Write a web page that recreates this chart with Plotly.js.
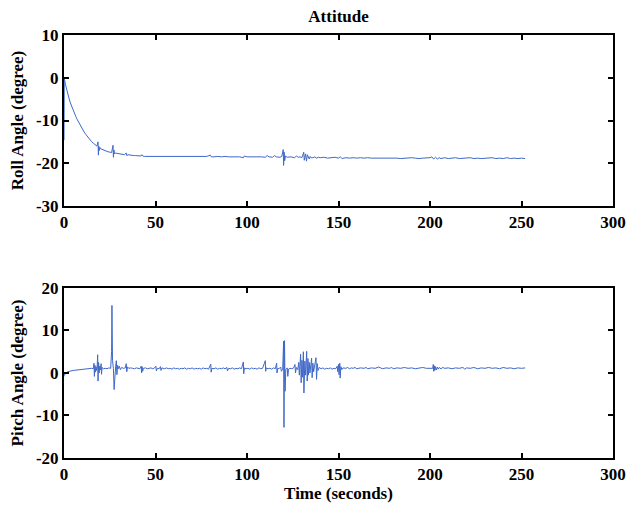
<!DOCTYPE html>
<html>
<head>
<meta charset="utf-8">
<script src="https://cdn.plot.ly/plotly-3.0.1.min.js"></script>
<style>
  html, body { margin: 0; padding: 0; background: #fff; }
  #chart { width: 627px; height: 506px; }
</style>
</head>
<body>
<div id="chart"></div>
<script>
// Roll angle samples (seconds, degrees)
const rollTime = [
  0, 0.15, 0.4, 0.8, 1.2, 1.6, 2, 2.5, 3, 3.5, 4, 4.5, 5, 5.5, 6, 6.5, 7, 7.5, 8, 8.5, 9, 9.5, 10,
  11, 12, 13, 14, 15, 16, 17, 18, 18.6, 18.8, 19.0, 19.3, 19.6, 20, 21, 22, 23, 24, 25, 26,
  26.8, 27.0, 27.3, 27.6, 28, 29, 30, 31, 32, 33, 34, 34.3, 35, 36, 37, 38, 39, 40, 42, 42.5, 43, 44, 46, 48,
  50, 52, 54, 56, 58, 60, 62, 64, 66, 68, 70, 72, 74, 76, 78, 80, 80.5, 82, 84, 86, 88, 90, 92, 94, 96,
  98, 98.5, 100, 102, 104, 106, 108, 110, 111, 112, 114, 115, 116, 118, 119,
  119.8, 120.0, 120.3, 120.6, 121, 122, 124, 126, 127, 128, 129, 130,
  131, 131.3, 132, 132.5, 133, 134, 134.5, 135,
  136, 137, 138, 139, 140, 142, 144, 146, 148, 150, 151, 152, 154, 156, 158, 160, 162, 164, 166, 168,
  170, 172, 174, 176, 178, 180, 182, 184, 186, 188, 190, 192, 194, 196, 198, 200, 201, 202, 203, 204,
  205, 206, 208, 210, 212, 214, 216, 218, 220, 222, 224, 226, 228, 230, 232, 234, 236, 238, 240, 242,
  244, 246, 248, 250, 252
];
const rollDeg = [
  -14.6, -0.3, -0.6, -1.6, -2.4, -3.0, -3.7, -4.5, -5.2, -5.9, -6.5, -7.1, -7.6, -8.1, -8.6, -9.1, -9.6, -10.0, -10.5, -10.9, -11.3, -11.6, -12.0,
  -12.7, -13.3, -13.9, -14.4, -14.9, -15.3, -15.7, -16.0, -15.0, -18.1, -16.0, -17.0, -16.3, -16.6, -16.8, -17.0, -17.1, -17.3, -17.4, -17.5,
  -15.8, -18.6, -16.9, -17.8, -17.6, -17.7, -17.8, -17.8, -17.9, -18.0, -17.6, -18.2, -18.0, -18.1, -18.1, -18.2, -18.2, -18.2, -18.3, -18.0, -18.3, -18.4, -18.4, -18.5,
  -18.4, -18.5, -18.4, -18.5, -18.45, -18.5, -18.4, -18.5, -18.5, -18.4, -18.5, -18.4, -18.5, -18.5, -18.4, -18.1, -18.5, -18.5, -18.4, -18.5, -18.4, -18.5, -18.5, -18.4, -18.5,
  -18.7, -18.3, -18.5, -18.5, -18.4, -18.5, -18.5, -18.6, -18.2, -18.5, -18.6, -18.2, -18.5, -18.6, -18.4,
  -16.8, -20.5, -17.4, -19.4, -18.3, -18.6, -18.5, -18.7, -18.3, -18.6, -18.5, -18.7,
  -17.4, -19.3, -17.8, -19.5, -18.0, -19.0, -18.4, -18.7,
  -18.7, -18.5, -18.8, -18.6, -18.7, -18.6, -18.8, -18.7, -18.6, -18.8, -18.5, -18.9, -18.7, -18.8, -18.7, -18.8, -18.7, -18.8, -18.7, -18.8,
  -18.8, -18.7, -18.8, -18.8, -18.7, -18.8, -18.8, -18.9, -18.8, -18.8, -18.7, -18.8, -18.9, -18.8, -18.8, -18.7, -18.5, -19.0, -18.6, -19.0,
  -18.7, -18.9, -18.7, -18.9, -18.8, -18.7, -18.9, -18.8, -18.8, -18.7, -18.9, -18.8, -18.9, -18.8, -18.8, -18.7, -18.9, -18.8, -18.9, -18.7,
  -18.9, -18.8, -18.9, -18.8, -18.9
];

// Pitch angle samples (seconds, degrees)
const pitchTime = [
  0, 0.3, 0.6, 1, 2, 3, 4, 5, 6, 7, 8, 9, 10, 11, 12, 13, 14, 15, 16,
  16.4, 16.6, 16.9, 17.2, 17.5, 17.8, 18.1, 18.4, 18.6, 18.9, 19.2, 19.5, 19.8, 20.3, 20.5, 20.8,
  21.5, 22.5, 23.5, 24.5, 25.5, 26.0, 26.2, 26.5, 27.0, 27.4, 27.8, 28.2, 28.6, 28.9, 29.3, 29.7,
  30.2, 30.8, 31.5, 32.5, 33.5, 34.0, 34.3, 34.7, 35.5, 36.5, 37.5, 38.5, 39.5, 40.5, 41.5,
  42.2, 42.4, 42.7, 43.0, 43.4, 44.5, 45.5, 46.5, 47.5, 48.5, 49.5, 50.2, 50.5, 51.0, 52.0, 52.7, 53.0, 53.5,
  55, 56, 57, 58, 59, 60, 61, 62, 63, 64, 65, 66, 67, 68, 69, 70, 71, 72, 73, 74, 75, 76, 77, 78, 79,
  80.2, 80.4, 80.8, 82, 83, 84, 85, 86, 87, 88, 89, 89.3, 90, 91, 92, 93, 94, 95, 96, 97,
  98.0, 98.2, 98.6, 99.5, 100.5, 101.5, 102.5, 103.5, 104.5, 105.5, 106.5, 107.5, 108.5,
  110.0, 110.2, 110.6, 111.5, 112.5, 113.5, 114.5, 115.5, 116.2, 116.4, 116.8, 117.5, 118.4, 118.8, 119.5,
  120.0, 120.2, 120.5, 120.8, 121.2, 122.0, 122.3, 122.7, 123.5, 124.5, 125.5, 126.2, 126.5, 127, 127.7,
  128.3, 128.6, 129.3, 129.6, 130.0, 130.4, 130.8, 131.1, 131.6, 132.0, 132.6, 132.9, 133.3, 133.6,
  134.0, 134.4, 135.3, 135.6, 136.0, 136.4, 137.7, 138.0, 138.4, 138.8, 139.5, 140.5, 141.5, 142.5,
  143.5, 144.5, 145.5, 146.5, 147.5, 148.5, 149.3, 149.6, 150.0, 150.3, 150.7, 150.9, 151.3, 151.8, 152.5,
  154, 155, 156, 157, 158, 159, 160, 162, 164, 165, 166, 168, 170, 171, 172, 174, 176, 178, 179, 180,
  182, 184, 186, 188, 190, 192, 194, 196, 198, 200, 201.5, 201.8, 202.0, 202.3, 202.6, 203, 203.4, 204,
  204.5, 205, 206, 207, 208, 210, 212, 214, 216, 218, 219, 220, 222, 224, 226, 228, 230, 232, 234, 236,
  238, 240, 242, 244, 246, 248, 250, 252
];
const pitchDeg = [
  -0.8, 0.1, -0.3, 0.0, 0.3, 0.45, 0.5, 0.6, 0.65, 0.7, 0.8, 0.85, 0.9, 0.95, 1.0, 1.0, 1.05, 1.1, 1.0,
  2.3, -0.8, 1.8, 0.2, 1.5, 0.6, 1.2, 4.3, -1.9, 2.5, 0.0, 1.6, 0.7, 2.2, -0.3, 1.3,
  1.0, 1.1, 1.0, 1.2, 1.1, 5.0, 15.9, 3.0, 1.0, -3.9, 0.5, 1.5, 2.9, -0.4, 1.8, 1.0,
  1.6, 0.8, 1.3, 1.1, 1.2, 2.2, 0.3, 1.4, 1.1, 1.2, 1.1, 1.0, 1.2, 1.1, 1.0,
  1.6, 0.0, 1.5, 0.4, 1.1, 1.2, 1.0, 1.1, 1.2, 1.0, 1.2, 1.6, 0.5, 1.1, 1.0, 1.5, 0.6, 1.2,
  1.0, 1.2, 1.0, 1.1, 0.9, 1.2, 1.0, 1.1, 0.9, 1.1, 1.0, 1.2, 0.9, 1.1, 1.0, 1.2, 0.9, 1.1, 1.0, 1.1, 0.9, 1.2, 1.0, 1.1, 0.9,
  2.1, 0.2, 1.1, 1.0, 1.2, 0.9, 1.1, 1.0, 1.2, 1.0, 1.3, 0.5, 1.1, 1.0, 1.2, 0.9, 1.1, 1.0, 1.2, 1.0,
  2.6, -0.2, 1.2, 1.0, 1.1, 0.9, 1.2, 1.0, 1.1, 0.9, 1.2, 1.0, 1.1,
  2.9, 0.4, 1.2, 1.0, 1.1, 0.9, 1.2, 1.0, 2.3, 0.0, 1.1, 1.0, 1.4, 0.4, 0.9,
  7.5, -12.8, 7.6, -4.3, 0.8, 1.2, -0.8, 0.9, 1.1, 1.0, 1.2, 2.0, 0.0, 1.3, 0.8,
  2.5, -0.5, 4.4, -2.3, 3.0, -1.0, 5.0, -4.7, 2.8, -0.5, 5.1, -1.9, 3.4, -0.5,
  2.5, 0.0, 3.5, -1.1, 2.3, 0.3, 3.6, -1.5, 2.2, 0.6, 1.3, 1.0, 1.2, 0.9,
  1.1, 1.0, 1.2, 0.9, 1.1, 1.0, 1.6, 0.3, 2.0, -0.4, 2.3, -1.2, 1.5, 0.8, 1.2,
  1.1, 1.3, 1.0, 1.2, 1.1, 1.3, 1.0, 1.2, 1.1, 1.3, 1.0, 1.2, 1.1, 1.2, 1.4, 1.0, 1.2, 1.1, 1.3, 1.0,
  1.2, 1.1, 1.3, 1.1, 1.2, 1.0, 1.2, 1.3, 1.1, 1.2, 1.1, 2.0, 0.4, 1.7, 0.6, 1.5, 0.7, 1.4,
  0.9, 1.3, 1.0, 1.3, 1.1, 1.2, 1.0, 1.2, 1.1, 1.3, 0.9, 1.2, 1.1, 1.3, 1.0, 1.2, 1.1, 1.3, 1.1, 1.2,
  1.0, 1.3, 1.1, 1.2, 1.0, 1.2, 1.1, 1.2
];

const xTicks = [0, 50, 100, 150, 200, 250, 300];
const rollTicks = [-30, -20, -10, 0, 10];
const pitchTicks = [-20, -10, 0, 10, 20];

const lineColor = '#3f68c8';
const serif = { family: 'Liberation Serif, Times New Roman, serif', size: 17, color: '#000' };
const boldSerif = Object.assign({}, serif, { weight: 'bold' });

const axisBase = {
  showline: true,
  linecolor: '#000',
  linewidth: 2,
  mirror: 'ticks',
  ticks: 'inside',
  ticklen: 5,
  tickwidth: 2,
  tickcolor: '#000',
  showgrid: false,
  zeroline: false,
  tickfont: boldSerif,
  automargin: false
};

const traces = [
  {
    x: rollTime, y: rollDeg, type: 'scatter', mode: 'lines',
    line: { color: lineColor, width: 1 }, xaxis: 'x', yaxis: 'y', showlegend: false, hoverinfo: 'skip'
  },
  {
    x: pitchTime, y: pitchDeg, type: 'scatter', mode: 'lines',
    line: { color: lineColor, width: 1 }, xaxis: 'x2', yaxis: 'y2', showlegend: false, hoverinfo: 'skip'
  }
];

const layout = {
  width: 627,
  height: 506,
  paper_bgcolor: '#fff',
  plot_bgcolor: '#fff',
  margin: { l: 64, r: 14, t: 35, b: 48, pad: 0 },
  showlegend: false,
  title: { text: 'Attitude', font: boldSerif, x: 0.54, xanchor: 'center', y: 0.968, yanchor: 'middle' },
  xaxis: Object.assign({}, axisBase, {
    domain: [0, 1], range: [0, 300], tickvals: xTicks, ticktext: xTicks.map(String), anchor: 'y'
  }),
  yaxis: Object.assign({}, axisBase, {
    domain: [0.5957, 1], range: [-30, 10], tickvals: rollTicks, ticktext: rollTicks.map(String), anchor: 'x',
    title: { text: 'Roll Angle (degree)', font: boldSerif, standoff: 8 }
  }),
  xaxis2: Object.assign({}, axisBase, {
    domain: [0, 1], range: [0, 300], tickvals: xTicks, ticktext: xTicks.map(String), anchor: 'y2',
    title: { text: 'Time (seconds)', font: boldSerif, standoff: 4 }
  }),
  yaxis2: Object.assign({}, axisBase, {
    domain: [0, 0.4019], range: [-20, 20], tickvals: pitchTicks, ticktext: pitchTicks.map(String), anchor: 'x2',
    title: { text: 'Pitch Angle (degree)', font: boldSerif, standoff: 8 }
  })
};

Plotly.newPlot('chart', traces, layout, { staticPlot: true, displayModeBar: false });
</script>
</body>
</html>
